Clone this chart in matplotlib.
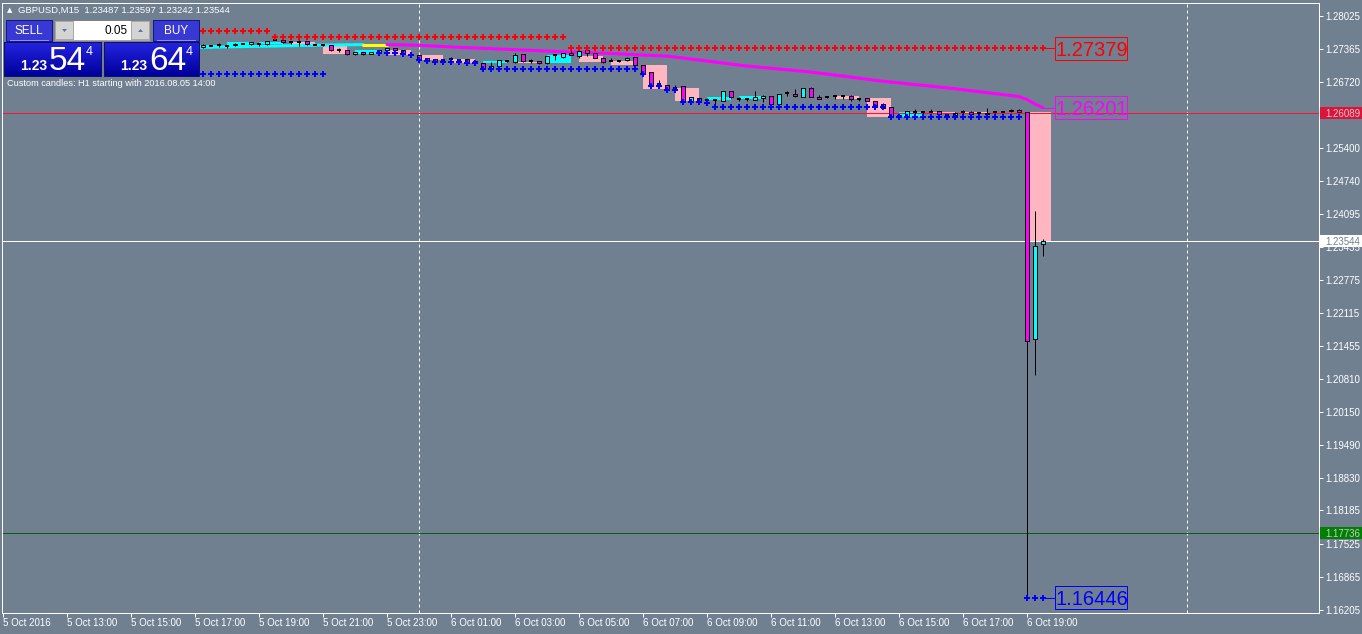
import matplotlib
matplotlib.use("Agg")
import matplotlib.pyplot as plt
import matplotlib.transforms as mtransforms
import matplotlib.font_manager as fm
from matplotlib.patches import Rectangle, Polygon
from matplotlib.collections import LineCollection
import numpy as np

W, H, DPI = 1362, 634, 100
PX = 72.0 / DPI          # one pixel in points
BG = "#708090"

# ---------------- data ----------------
symbol = "GBPUSD,M15"
first_bar = 24           # bar index of the first candle (bar 0 = 5 Oct 11:00)

opens = [1.27388, 1.27408, 1.27428, 1.27441, 1.27428, 1.27441, 1.27467, 1.27461, 1.27467, 1.27467,
         1.27547, 1.27547, 1.27501, 1.27507, 1.27527, 1.27453, 1.27441, 1.27441, 1.27348, 1.27342,
         1.27262, 1.27314, 1.27268, 1.27294, 1.27342, 1.27382, 1.27342, 1.27254, 1.27242, 1.27189,
         1.27163, 1.27149, 1.27163, 1.27149, 1.27163, 1.27129, 1.27083, 1.26964, 1.27030, 1.27135,
         1.27115, 1.27262, 1.27129, 1.27129, 1.27083, 1.27242, 1.27203, 1.27294, 1.27235, 1.27342,
         1.27282, 1.27183, 1.27135, 1.27135, 1.27143, 1.27203, 1.27044, 1.26904, 1.26666, 1.26646,
         1.26592, 1.26632, 1.26333, 1.26387, 1.26347, 1.26347, 1.26339, 1.26532, 1.26373, 1.26373,
         1.26359, 1.26399, 1.26427, 1.26279, 1.26486, 1.26478, 1.26419, 1.26586, 1.26419, 1.26419,
         1.26439, 1.26439, 1.26439, 1.26373, 1.26387, 1.26333, 1.26279, 1.26208, 1.26009, 1.26029,
         1.26108, 1.26108, 1.26120, 1.26128, 1.26055, 1.26061, 1.26120, 1.26120, 1.26094, 1.26069,
         1.26108, 1.26120, 1.26128, 1.26160, 1.26114, 1.21591, 1.23487]
highs = [1.27418, 1.27467, 1.27432, 1.27487, 1.27457, 1.27487, 1.27473, 1.27507, 1.27497, 1.27527,
         1.27593, 1.27557, 1.27533, 1.27541, 1.27537, 1.27459, 1.27467, 1.27448, 1.27382, 1.27348,
         1.27308, 1.27318, 1.27318, 1.27348, 1.27394, 1.27388, 1.27348, 1.27282, 1.27248, 1.27195,
         1.27169, 1.27179, 1.27203, 1.27169, 1.27169, 1.27135, 1.27089, 1.27115, 1.27149, 1.27155,
         1.27294, 1.27268, 1.27175, 1.27135, 1.27235, 1.27268, 1.27288, 1.27368, 1.27342, 1.27348,
         1.27288, 1.27215, 1.27189, 1.27149, 1.27203, 1.27209, 1.27050, 1.26910, 1.26751, 1.26652,
         1.26646, 1.26638, 1.26423, 1.26393, 1.26387, 1.26373, 1.26538, 1.26538, 1.26413, 1.26403,
         1.26532, 1.26447, 1.26433, 1.26478, 1.26532, 1.26566, 1.26592, 1.26622, 1.26453, 1.26443,
         1.26443, 1.26443, 1.26447, 1.26403, 1.26393, 1.26339, 1.26287, 1.26214, 1.26061, 1.26134,
         1.26168, 1.26134, 1.26168, 1.26134, 1.26061, 1.26108, 1.26160, 1.26128, 1.26101, 1.26188,
         1.26114, 1.26128, 1.26168, 1.26168, 1.26120, 1.24145, 1.23597]
lows = [1.27378, 1.27388, 1.27424, 1.27408, 1.27398, 1.27428, 1.27461, 1.27448, 1.27428, 1.27457,
        1.27541, 1.27497, 1.27461, 1.27434, 1.27457, 1.27447, 1.27437, 1.27338, 1.27314, 1.27258,
        1.27254, 1.27254, 1.27262, 1.27288, 1.27338, 1.27334, 1.27274, 1.27215, 1.27163, 1.27135,
        1.27115, 1.27119, 1.27115, 1.27129, 1.27095, 1.27075, 1.26956, 1.26956, 1.27024, 1.27115,
        1.27083, 1.27115, 1.27083, 1.27075, 1.27075, 1.27149, 1.27195, 1.27242, 1.27183, 1.27235,
        1.27183, 1.27095, 1.27129, 1.27115, 1.27135, 1.27036, 1.26870, 1.26642, 1.26606, 1.26572,
        1.26526, 1.26319, 1.26327, 1.26333, 1.26267, 1.26188, 1.26333, 1.26399, 1.26333, 1.26343,
        1.26353, 1.26319, 1.26273, 1.26273, 1.26439, 1.26419, 1.26413, 1.26413, 1.26373, 1.26393,
        1.26373, 1.26373, 1.26333, 1.26343, 1.26333, 1.26248, 1.26194, 1.26001, 1.26001, 1.26021,
        1.26055, 1.26081, 1.26108, 1.26061, 1.26049, 1.26055, 1.26069, 1.26075, 1.26088, 1.26061,
        1.26094, 1.26108, 1.26120, 1.26114, 1.16446, 1.20881, 1.23242]
closes = [1.27402, 1.27448, 1.27428, 1.27441, 1.27428, 1.27473, 1.27467, 1.27501, 1.27467, 1.27521,
          1.27547, 1.27501, 1.27501, 1.27507, 1.27467, 1.27453, 1.27441, 1.27342, 1.27348, 1.27268,
          1.27302, 1.27262, 1.27314, 1.27342, 1.27388, 1.27342, 1.27282, 1.27254, 1.27169, 1.27143,
          1.27123, 1.27149, 1.27163, 1.27149, 1.27103, 1.27083, 1.26964, 1.27024, 1.27143, 1.27135,
          1.27248, 1.27123, 1.27129, 1.27083, 1.27229, 1.27242, 1.27282, 1.27248, 1.27334, 1.27282,
          1.27189, 1.27115, 1.27135, 1.27135, 1.27195, 1.27044, 1.26884, 1.26652, 1.26666, 1.26578,
          1.26592, 1.26327, 1.26413, 1.26339, 1.26347, 1.26347, 1.26532, 1.26407, 1.26373, 1.26373,
          1.26407, 1.26439, 1.26279, 1.26472, 1.26486, 1.26427, 1.26586, 1.26419, 1.26379, 1.26419,
          1.26439, 1.26439, 1.26373, 1.26373, 1.26339, 1.26254, 1.26200, 1.26009, 1.26055, 1.26128,
          1.26108, 1.26108, 1.26120, 1.26069, 1.26055, 1.26101, 1.26120, 1.26081, 1.26094, 1.26101,
          1.26108, 1.26120, 1.26160, 1.26120, 1.21558, 1.23454, 1.23544]

# moving average (one value per bar, same bars as the candles)
ma_values = [1.27398, 1.27402, 1.27404, 1.27408, 1.27410, 1.27414, 1.27416, 1.27420, 1.27422, 1.27426,
             1.27428, 1.27432, 1.27434, 1.27438, 1.27440, 1.27444, 1.27446, 1.27448, 1.27450, 1.27452,
             1.27454, 1.27456, 1.27456, 1.27456, 1.27456, 1.27454, 1.27450, 1.27446, 1.27442, 1.27434,
             1.27426, 1.27418, 1.27410, 1.27402, 1.27396, 1.27390, 1.27382, 1.27376, 1.27368, 1.27362,
             1.27356, 1.27348, 1.27342, 1.27334, 1.27328, 1.27322, 1.27316, 1.27310, 1.27306, 1.27300,
             1.27294, 1.27288, 1.27280, 1.27272, 1.27264, 1.27256, 1.27248, 1.27241, 1.27235, 1.27227,
             1.27209, 1.27189, 1.27169, 1.27149, 1.27129, 1.27109, 1.27089, 1.27069, 1.27050, 1.27030,
             1.27016, 1.27000, 1.26986, 1.26970, 1.26956, 1.26940, 1.26926, 1.26910, 1.26890, 1.26870,
             1.26850, 1.26831, 1.26809, 1.26789, 1.26767, 1.26745, 1.26727, 1.26711, 1.26695, 1.26677,
             1.26661, 1.26646, 1.26630, 1.26612, 1.26596, 1.26578, 1.26558, 1.26538, 1.26520, 1.26500,
             1.26480, 1.26462, 1.26443, 1.26423, 1.26363, 1.26273, 1.26201]

# stepped channel levels: (first bar, last bar, price)
upper_steps = [(24, 33, 1.27726), (34, 70, 1.27601), (71, 130, 1.27379)]
lower_steps = [(24, 40, 1.26880), (47, 49, 1.27282), (50, 50, 1.27262), (51, 51, 1.27242),
               (52, 52, 1.27149), (53, 53, 1.27129), (54, 57, 1.27115), (58, 59, 1.27095),
               (60, 79, 1.26964), (80, 80, 1.26870), (81, 81, 1.26638), (82, 82, 1.26632),
               (83, 84, 1.26546), (85, 87, 1.26319), (88, 88, 1.26287), (89, 110, 1.26208),
               (111, 127, 1.26009), (128, 130, 1.16446)]

ask_line = 1.26089
bid_line = 1.23544
green_line = 1.17736
sell_price = 1.23544
buy_price = 1.23644
lot = "0.05"

time_ticks = [0, 8, 16, 24, 32, 40, 48, 56, 64, 72, 80, 88, 96, 104, 112, 120, 128]
time_labels = ["5 Oct 2016", "5 Oct 13:00", "5 Oct 15:00", "5 Oct 17:00", "5 Oct 19:00",
               "5 Oct 21:00", "5 Oct 23:00", "6 Oct 01:00", "6 Oct 03:00", "6 Oct 05:00",
               "6 Oct 07:00", "6 Oct 09:00", "6 Oct 11:00", "6 Oct 13:00", "6 Oct 15:00",
               "6 Oct 17:00", "6 Oct 19:00"]
day_separators = [52, 148]
price_ticks = [1.28025, 1.27365, 1.26720, 1.25400, 1.24740, 1.24095, 1.23435, 1.22775,
               1.22115, 1.21455, 1.20810, 1.20150, 1.19490, 1.18830, 1.18185, 1.17525,
               1.16865, 1.16205]

# ---------------- fonts ----------------
names = {f.name for f in fm.fontManager.ttflist}
REG = "Liberation Sans"
NARROW = "Liberation Sans Narrow" if "Liberation Sans Narrow" in names else None
big_font = NARROW or REG
big_size = 17 if NARROW else 14.5
plt.rcParams["font.family"] = [REG, "DejaVu Sans"]

# ---------------- figure ----------------
fig = plt.figure(figsize=(W / DPI, H / DPI), dpi=DPI, facecolor=BG)
ax = fig.add_axes([2 / W, 21 / H, 1317 / W, 610 / H])
ax.set_facecolor(BG)
ax.set_zorder(1)
y_lo, y_hi = 1.16145, 1.28284
ax.set_xlim(-0.125, 164.5)
ax.set_ylim(y_lo, y_hi)
ppp = (y_hi - y_lo) / 610.0   # price per pixel

for s in ax.spines.values():
    s.set_color("white")
    s.set_linewidth(PX)

ax.yaxis.tick_right()
ax.set_yticks(price_ticks)
ax.set_yticklabels([f"{v:.5f}" for v in price_ticks])
ax.tick_params(axis="y", colors="white", labelsize=7, length=4 * PX, width=PX, pad=2 * PX)
ax.set_xticks(time_ticks)
ax.set_xticklabels(time_labels)
ax.tick_params(axis="x", colors="white", labelsize=7, length=4 * PX, width=PX, pad=1 * PX)
for t in ax.get_xticklabels():
    t.set_horizontalalignment("left")

# period separators
for b in day_separators:
    ax.axvline(b, color="white", lw=PX, ls=(0, (3, 3)), zorder=0.5)

bars = np.arange(first_bar, first_bar + len(opens))
n = len(opens)

# H1 custom candles (groups of four M15 bars)
for g in range(first_bar, bars[-1] + 1, 4):
    i0 = g - first_bar
    i1 = min(i0 + 3, n - 1)
    o, c = opens[i0], closes[i1]
    col = "#FFB6C1" if c < o else "#00FFFF"
    ax.add_patch(Rectangle((g, min(o, c)), 3, abs(c - o), fc=col, ec="none", zorder=1))

# horizontal price lines
ax.axhline(ask_line, color="#FF1034", lw=PX, zorder=2, antialiased=False)
ax.axhline(bid_line, color="white", lw=PX, zorder=2, antialiased=False)
ax.axhline(green_line, color="#0B5E0B", lw=PX, zorder=2, antialiased=False)

# coloured moving average
ma = np.array(ma_values)
segs, cols = [], []
for i in range(n - 1):
    segs.append([(bars[i], ma[i]), (bars[i + 1], ma[i + 1])])
    d = ma[i + 1] - ma[i]
    cols.append("#00FFFF" if d > 1e-6 else ("#FFFF00" if abs(d) <= 1e-6 else "#FF00FF"))
ax.add_collection(LineCollection(segs, colors=cols, linewidths=3 * PX, capstyle="round", zorder=3))

# M15 candles
bw = 0.6
for i in range(n):
    b, o, h, l, c = bars[i], opens[i], highs[i], lows[i], closes[i]
    ax.plot([b, b], [l, h], color="black", lw=PX, zorder=4, solid_capstyle="butt")
    if abs(c - o) < 3e-5:
        ax.plot([b - bw / 2, b + bw / 2], [o, o], color="black", lw=2 * PX, zorder=5,
                solid_capstyle="butt")
    else:
        col = "#00FFFF" if c > o else "#FF00FF"
        ax.add_patch(Rectangle((b - bw / 2, min(o, c)), bw, abs(c - o), fc=col, ec="black",
                               lw=PX, zorder=5))

# channel dots
def step_points(steps):
    xs, ys = [], []
    for b0, b1, v in steps:
        for b in range(b0, b1 + 1):
            xs.append(b)
            ys.append(v)
    return xs, ys

ux, uy = step_points(upper_steps)
lx, ly = step_points(lower_steps)
ax.plot(ux, uy, ls="none", marker="P", ms=4.2, mew=0, color="#FF0000", zorder=6)
ax.plot(lx, ly, ls="none", marker="P", ms=4.2, mew=0, color="#0000FF", zorder=6)

# end-of-line value labels
box_x0, box_w = 131.5, 9.0
hh = 11.5 * ppp
for val, col, last_b in [(uy[-1], "#FF0000", ux[-1]), (ma[-1], "#FF00FF", bars[-1]),
                         (ly[-1], "#0000FF", lx[-1])]:
    ax.plot([last_b, box_x0], [val, val], color=col, lw=PX, zorder=6)
    ax.add_patch(Rectangle((box_x0, val - hh), box_w, 2 * hh, fc="none", ec=col, lw=PX, zorder=7))
    ax.text(box_x0 + 0.1, val, f"{val:.5f}", color=col, fontsize=big_size, family=[big_font],
            ha="left", va="center_baseline", zorder=8)

# coloured price labels on the scale
blend = mtransforms.blended_transform_factory(fig.transFigure, ax.transData)
lh = 6 * ppp
for val, fc, tc in [(ask_line, "#DC143C", "#D8C8C8"), (bid_line, "white", BG),
                    (green_line, "#008000", "#C8C8C8")]:
    ax.add_patch(Rectangle((1320 / W, val - lh), 42 / W, 2 * lh, transform=blend, fc=fc,
                           ec="none", clip_on=False, zorder=10))
    ax.text(1325 / W, val, f"{val:.5f}", transform=blend, color=tc, fontsize=7, ha="left",
            va="center_baseline", clip_on=False, zorder=11)

# ---------------- one-click trading panel (pixel overlay) ----------------
ov = fig.add_axes([0, 0, 1, 1])
ov.set_zorder(5)
ov.patch.set_alpha(0)
ov.axis("off")

ov.text(7, 10, "\u25B2", color="white", fontsize=5, va="center", ha="left",
        family=["DejaVu Sans"])
ov.text(18, 10, f"{symbol}  {opens[-1]:.5f} {highs[-1]:.5f} {lows[-1]:.5f} {closes[-1]:.5f}",
        color="white", fontsize=6.8, va="center", ha="left")

for x0, label in [(6, "SELL"), (153, "BUY")]:
    ov.add_patch(Rectangle((x0, 20), 46, 21, fc="#3838D2", ec="#14148C", lw=PX))
    ov.plot([x0 + 4, x0 + 42], [40, 40], color="#9090E0", lw=PX)
    ov.text(x0 + 23, 30.5, label, color="white", fontsize=8.5, ha="center", va="center")

ov.add_patch(Rectangle((54, 20), 96, 21, fc="#A8A8A8", ec="#808080", lw=PX))
ov.add_patch(Rectangle((56, 22), 17, 17, fc="#D4D4D4", ec="none"))
ov.add_patch(Rectangle((132, 22), 17, 17, fc="#D4D4D4", ec="none"))
ov.add_patch(Rectangle((74, 21), 57, 19, fc="white", ec="none"))
ov.add_patch(Polygon([(62, 29), (67, 29), (64.5, 32)], closed=True, fc="#6070A0", ec="none"))
ov.add_patch(Polygon([(138, 32), (143, 32), (140.5, 29)], closed=True, fc="#6070A0", ec="none"))
ov.text(128, 30.5, lot, color="black", fontsize=8.5, ha="right", va="center")

grad = np.linspace(0, 1, 40)[:, None]
top_c, bot_c = np.array([0x24, 0x24, 0xE0]) / 255, np.array([0x00, 0x00, 0x9C]) / 255
img = (top_c[None, None, :] * (1 - grad[:, :, None]) + bot_c[None, None, :] * grad[:, :, None])
for x0, x1, price in [(4, 101, sell_price), (104, 199, buy_price)]:
    ov.imshow(img, extent=(x0, x1, 76, 42), origin="upper", aspect="auto", zorder=1)
    ov.add_patch(Rectangle((x0, 42), x1 - x0, 34, fc="none", ec="#10106C", lw=PX, zorder=2))
    s = f"{price:.5f}"
    ov.text(x0 + 16, 70, s[:4], color="white", fontsize=10, fontweight="bold", ha="left",
            va="baseline", zorder=3)
    ov.text(x0 + 45, 70.5, s[4:6], color="white", fontsize=24, family=[big_font],
            ha="left", va="baseline", zorder=3)
    ov.text(x0 + 82, 55, s[6:], color="white", fontsize=9, ha="left", va="baseline", zorder=3)

ov.text(7, 83, "Custom candles: H1 starting with 2016.08.05 14:00", color="white",
        fontsize=6.6, ha="left", va="center")

ov.set_xlim(0, W)
ov.set_ylim(H, 0)

fig.savefig("out.png", dpi=DPI, facecolor=BG)
